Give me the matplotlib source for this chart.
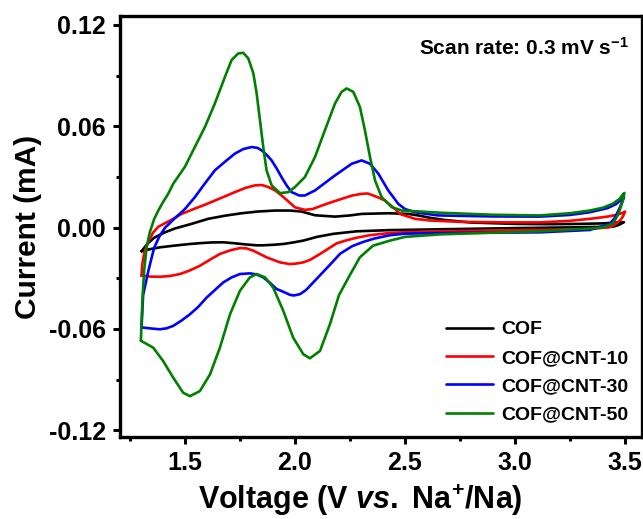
import matplotlib
matplotlib.use("Agg")
import matplotlib.pyplot as plt
from matplotlib.ticker import MultipleLocator

# ---- data (V vs. Na+/Na, mA) ----
# each loop = anodic branch (1.3 -> 3.5) followed by cathodic branch (3.5 -> 1.3)
cof_x = [1.303, 1.33, 1.36, 1.409, 1.455, 1.53, 1.606, 1.68, 1.758, 1.83, 1.909,
         1.977, 2.03, 2.091, 2.182, 2.25, 2.303, 2.424, 2.515, 2.56, 2.614, 2.674,
         2.8, 3.0, 3.15, 3.3, 3.4, 3.477, 3.495,
         3.47, 3.447, 3.3, 3.0, 2.66, 2.43, 2.28, 2.174, 2.1, 2.038, 1.992, 1.947,
         1.9, 1.85, 1.826, 1.78, 1.727, 1.674, 1.62, 1.57, 1.523, 1.45, 1.386,
         1.34, 1.303]
cof_y = [-0.0140, -0.0095, -0.0060, -0.0028, -0.0005, 0.0022, 0.0052, 0.0070, 0.0085,
         0.0095, 0.0101, 0.0101, 0.0095, 0.0073, 0.0065, 0.0072, 0.0081, 0.0085,
         0.0081, 0.0072, 0.0058, 0.0046, 0.0030, 0.0022, 0.0020, 0.0022, 0.0025,
         0.0031, 0.0032,
         0.0015, 0.0006, 0.0002, -0.0003, -0.0010, -0.0015, -0.0022, -0.0037,
         -0.0055, -0.0077, -0.0088, -0.0097, -0.0102, -0.0105, -0.0105, -0.0100,
         -0.0093, -0.0087, -0.0088, -0.0092, -0.0097, -0.0107, -0.0117, -0.0128,
         -0.0140]

cnt10_x = [1.303, 1.306, 1.315, 1.333, 1.355, 1.379, 1.43, 1.485, 1.54, 1.59, 1.636,
           1.682, 1.727, 1.775, 1.818, 1.85, 1.879, 1.91, 1.939, 1.97, 2.0, 2.045,
           2.08, 2.121, 2.165, 2.212, 2.26, 2.303, 2.33, 2.356, 2.385, 2.409, 2.432,
           2.455, 2.478, 2.5, 2.545, 2.614, 2.75, 2.95, 3.114, 3.25, 3.34, 3.42,
           3.46, 3.49, 3.5,
           3.49, 3.477, 3.45, 3.43, 3.34, 3.114, 2.9, 2.659, 2.5, 2.432, 2.34, 2.28,
           2.235, 2.19, 2.114, 2.07, 2.038, 2.0, 1.977, 1.932, 1.871, 1.811, 1.78,
           1.75, 1.705, 1.659, 1.614, 1.568, 1.52, 1.477, 1.43, 1.386, 1.34, 1.31,
           1.303]
cnt10_y = [-0.0285, -0.022, -0.015, -0.0085, -0.003, 0.0005, 0.004, 0.0081, 0.011,
           0.0135, 0.016, 0.0185, 0.021, 0.0235, 0.025, 0.0252, 0.024, 0.022, 0.019,
           0.0155, 0.012, 0.0105, 0.011, 0.013, 0.015, 0.017, 0.019, 0.020, 0.0202,
           0.019, 0.0175, 0.016, 0.0135, 0.011, 0.008, 0.0071, 0.0052, 0.0042,
           0.0034, 0.0031, 0.0031, 0.0040, 0.0052, 0.0065, 0.0075, 0.0088, 0.0095,
           0.0065, 0.0042, 0.0015, 0.0002, -0.0008, -0.0014, -0.0017, -0.0022,
           -0.0027, -0.0032, -0.0045, -0.0060, -0.0075, -0.0093, -0.0156, -0.0190,
           -0.0206, -0.0214, -0.0216, -0.0206, -0.0176, -0.0137, -0.0123, -0.0121,
           -0.0135, -0.0156, -0.0190, -0.0226, -0.0255, -0.0275, -0.0287, -0.0291,
           -0.0290, -0.0285, -0.0285]

cnt30_x = [1.303, 1.31, 1.335, 1.36, 1.385, 1.41, 1.45, 1.5, 1.545, 1.59, 1.636,
           1.682, 1.727, 1.765, 1.803, 1.83, 1.849, 1.872, 1.894, 1.917, 1.939, 1.962,
           1.985, 2.02, 2.045, 2.091, 2.182, 2.258, 2.303, 2.341, 2.379, 2.424, 2.47,
           2.5, 2.545, 2.65, 2.9, 3.114, 3.25, 3.34, 3.42, 3.46, 3.485, 3.495,
           3.477, 3.455, 3.43, 3.34, 3.114, 2.9, 2.659, 2.5, 2.432, 2.36, 2.31, 2.26,
           2.205, 2.159, 2.083, 2.05, 2.023, 1.995, 1.977, 1.947, 1.917, 1.885,
           1.856, 1.825, 1.795, 1.75, 1.712, 1.674, 1.636, 1.599, 1.56, 1.523, 1.485,
           1.447, 1.415, 1.386, 1.35, 1.31, 1.303]
cnt30_y = [-0.059, -0.040, -0.025, -0.012, -0.005, 0.0, 0.005, 0.011, 0.018, 0.026,
           0.0339, 0.039, 0.0438, 0.0465, 0.0477, 0.0472, 0.0457, 0.043, 0.0398,
           0.035, 0.0299, 0.025, 0.021, 0.019, 0.019, 0.022, 0.0309, 0.0378, 0.0398,
           0.0378, 0.0319, 0.022, 0.014, 0.011, 0.0091, 0.0072, 0.0066, 0.0065,
           0.0075, 0.0091, 0.0115, 0.014, 0.017, 0.018,
           0.012, 0.006, 0.0022, -0.0014, -0.0028, -0.0030, -0.0032, -0.0036,
           -0.0045, -0.0065, -0.0085, -0.0110, -0.0155, -0.0220, -0.0325, -0.0370,
           -0.0394, -0.0402, -0.0398, -0.0380, -0.0364, -0.0325, -0.0295, -0.0277,
           -0.0271, -0.0275, -0.0295, -0.0325, -0.0370, -0.0414, -0.0470, -0.0513,
           -0.0550, -0.0582, -0.0597, -0.0602, -0.0598, -0.0592, -0.059]

cnt50_x = [1.300, 1.303, 1.308, 1.315, 1.326, 1.34, 1.36, 1.379, 1.40, 1.424, 1.447,
           1.5, 1.545, 1.591, 1.636, 1.682, 1.712, 1.742, 1.765, 1.788, 1.811, 1.826,
           1.841, 1.856, 1.871, 1.894, 1.932, 1.97, 2.0, 2.045, 2.091, 2.136, 2.182,
           2.212, 2.235, 2.265, 2.295, 2.318, 2.341, 2.364, 2.394, 2.44, 2.485, 2.545,
           2.66, 2.9, 3.11, 3.25, 3.34, 3.40, 3.445, 3.475, 3.49, 3.497,
           3.49, 3.47, 3.445, 3.40, 3.34, 3.11, 2.9, 2.66, 2.5, 2.432, 2.355, 2.295,
           2.25, 2.2, 2.159, 2.114, 2.068, 2.038, 1.992, 1.947, 1.901, 1.864, 1.826,
           1.795, 1.75, 1.705, 1.659, 1.614, 1.568, 1.523, 1.492, 1.447, 1.401,
           1.356, 1.300]
cnt50_y = [-0.067, -0.055, -0.040, -0.025, -0.0117, -0.003, 0.005, 0.0101, 0.015,
           0.020, 0.026, 0.036, 0.0477, 0.0596, 0.0735, 0.0893, 0.0992, 0.1031,
           0.1035, 0.1002, 0.0913, 0.0794, 0.0636, 0.0477, 0.0339, 0.025, 0.0204,
           0.021, 0.024, 0.0299, 0.0418, 0.0576, 0.0735, 0.0804, 0.0824, 0.0804,
           0.0715, 0.0576, 0.0418, 0.0279, 0.018, 0.0121, 0.0101, 0.0097, 0.0088,
           0.0076, 0.0072, 0.0085, 0.0101, 0.0118, 0.0142, 0.017, 0.0196, 0.0205,
           0.016, 0.008, 0.0024, 0.0002, -0.0006, -0.0022, -0.0030, -0.0040,
           -0.0055, -0.0077, -0.0107, -0.0176, -0.0280, -0.0400, -0.0572, -0.0730,
           -0.0774, -0.0750, -0.0652, -0.0493, -0.0355, -0.0295, -0.0275, -0.0295,
           -0.0374, -0.0513, -0.0711, -0.0869, -0.0968, -0.0998, -0.0978, -0.0889,
           -0.0790, -0.0711, -0.0670]

labels = ["COF", "COF@CNT-10", "COF@CNT-30", "COF@CNT-50"]
colors = ["black", "#ff0000", "#0000ff", "#008000"]

plt.rcParams["font.family"] = ["Liberation Sans", "DejaVu Sans"]
plt.rcParams["font.weight"] = "bold"
plt.rcParams["mathtext.fontset"] = "custom"
plt.rcParams["mathtext.rm"] = "Liberation Sans:bold"
plt.rcParams["mathtext.bf"] = "Liberation Sans:bold"
plt.rcParams["mathtext.it"] = "Liberation Sans:italic:bold"

fig = plt.figure(figsize=(6.43, 5.19), dpi=100)
ax = fig.add_axes([120 / 643, 82 / 519, 522 / 643, 421 / 519])

series = [(cof_x, cof_y), (cnt10_x, cnt10_y), (cnt30_x, cnt30_y), (cnt50_x, cnt50_y)]
for (xs, ys), color, label in zip(series, colors, labels):
    ax.plot(xs, ys, color=color, lw=1.9, label=label,
            solid_joinstyle="round", solid_capstyle="round")

ax.set_xlim(1.205, 3.577)
ax.set_ylim(-0.124, 0.1253)
ax.set_xticks([1.5, 2.0, 2.5, 3.0, 3.5])
ax.set_yticks([-0.12, -0.06, 0.0, 0.06, 0.12])
ax.set_yticklabels(["-0.12", "-0.06", "0.00", "0.06", "0.12"])
ax.xaxis.set_minor_locator(MultipleLocator(0.25))
ax.yaxis.set_minor_locator(MultipleLocator(0.03))
ax.tick_params(which="major", direction="out", length=5, width=2.2, labelsize=18, pad=5)
ax.tick_params(which="minor", direction="out", length=3, width=2.2)
for lab in ax.get_xticklabels() + ax.get_yticklabels():
    lab.set_fontweight("bold")
for side in ["left", "bottom", "top", "right"]:
    ax.spines[side].set_linewidth(2.4)

ax.set_xlabel(r"Voltage (V $\mathit{vs.}$ Na$^{+}$/Na)", fontsize=22, fontweight="bold")
ax.xaxis.set_label_coords((360 - 120) / 522, -0.107)
ax.set_ylabel("Current (mA)", fontsize=21.5, fontweight="bold", labelpad=5)

ax.text(0.975, 0.925, r"Scan rate: 0.3 mV s$^{-1}$", transform=ax.transAxes,
        ha="right", va="center", fontsize=15, fontweight="bold")

ax.legend(loc="lower right", frameon=False, handlelength=2.45,
          handletextpad=0.4, labelspacing=0.55, borderaxespad=0.3,
          prop={"weight": "bold", "size": 14})

fig.savefig("out.png", dpi=100)
